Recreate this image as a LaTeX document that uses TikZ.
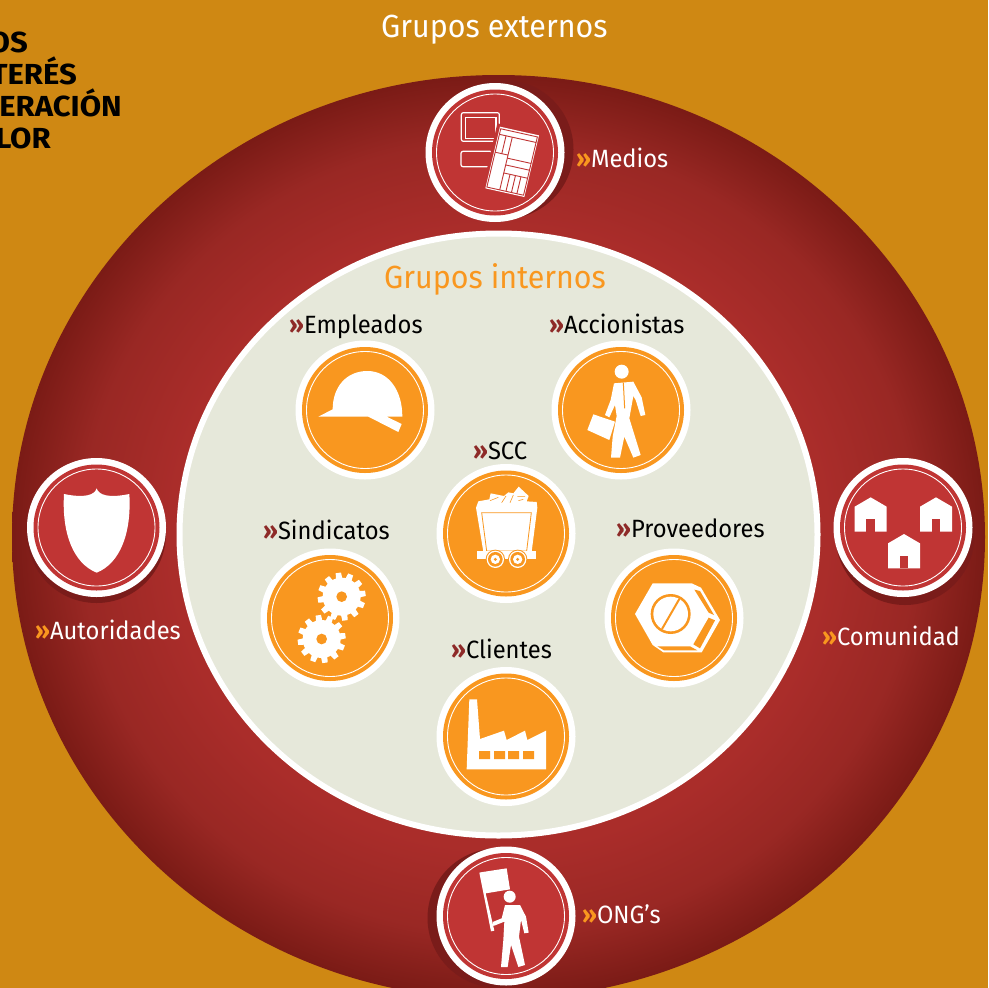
\documentclass[tikz,border=0pt]{standalone}
\usepackage{fontspec}
\setmainfont[FakeStretch=0.95]{Fira Sans}
\newfontfamily\titf[FakeStretch=1.07]{Fira Sans}
\definecolor{bgc}{HTML}{CF8813}
\definecolor{redb}{HTML}{C03534}
\definecolor{orb}{HTML}{F9971F}
\definecolor{shad}{HTML}{7A1C1A}
\definecolor{cream}{HTML}{E6E8DA}
\definecolor{darkr}{HTML}{8E2A28}
\pgfdeclareradialshading{bigred}{\pgfpoint{0bp}{0bp}}{rgb(0bp)=(.665,.175,.165);rgb(17bp)=(.665,.175,.165);rgb(21.5bp)=(.60,.155,.14);rgb(25bp)=(.48,.105,.085);rgb(50bp)=(.48,.105,.085)}
\newcommand{\gu}[1]{\textcolor{#1}{\bfseries »}}
\tikzset{
 disc/.style={circle,fill=white,minimum size=139pt,inner sep=0pt,draw=none},
 lab/.style={anchor=base west,inner sep=0pt,font=\fontsize{25}{25}\selectfont},
 head/.style={anchor=base west,inner sep=0pt,font=\fontsize{32}{32}\selectfont},
 tit/.style={anchor=base east,inner sep=0pt,text=black,font=\fontsize{29}{29}\titf\bfseries},
 ico/.style={fill=white,draw=none},
}
\newcommand{\redbadge}[5]{%
 \fill[shad] (#2+#4,#3+#5) circle (69.5);
 \node[disc] (#1) at (#2,#3) {};
 \fill[redb] (#1.center) circle (63);
 \draw[white,line width=.9pt] (#1.center) circle (58.5);}
\newcommand{\orbadge}[3]{%
 \node[disc] (#1) at (#2,#3) {};
 \fill[orb] (#1.center) circle (63);
 \draw[white,line width=.9pt] (#1.center) circle (58.5);}
\newcommand{\gearicon}[2]{%
 \fill[white] (#1,#2) circle (57);
 \foreach \a in {0,30,...,330}{
  \fill[white,shift={(#1,#2)},rotate=\a+8] (50,-10) -- (72,-8) -- (72,8) -- (50,10) -- cycle;}
 \fill[orb] (#1,#2) circle (16);}
\begin{document}
\begin{tikzpicture}[x=1pt,y=-1pt]
\useasboundingbox (0,0) rectangle (988,988);
\begin{scope}
\clip (0,0) rectangle (988,988);
\fill[bgc] (0,0) rectangle (988,988);
\shade[shading=bigred] (498.5,537) ellipse (486.5 and 462);
\filldraw[fill=cream,draw=white,line width=6pt] (498.5,534.5) ellipse (319 and 301);

\redbadge{medios}{495}{152.5}{9}{-3}
\redbadge{autoridades}{96.5}{527.5}{0}{6}
\redbadge{comunidad}{903}{527.5}{2}{8}
\redbadge{ongs}{506}{916}{-9}{2}
\orbadge{empleados}{365}{410}
\orbadge{accionistas}{621}{410}
\orbadge{scc}{506}{533.5}
\orbadge{sindicatos}{330}{618}
\orbadge{proveedores}{674}{618}
\orbadge{clientes}{506}{736.5}

% Medios icon
\begin{scope}[shift={(420,70)},scale=1/3]
 \draw[white,line width=1.2pt,rounded corners=2pt] (124,128) rectangle (238,214);
 \draw[white,line width=1.6pt] (136,142) rectangle (228,205);
 \draw[white,line width=1.2pt,rounded corners=2pt] (123,244) rectangle (216,290);
 \fill[redb] (232,160) -- (366,190) -- (326,390) -- (186,362) -- cycle;
 \begin{scope}[cm={117,-26,44,185,(240,170)}]
  \fill[white] (0,0) rectangle (1,1);
  \draw[redb,line width=.9pt] (.03,.03) rectangle (.97,.975);
  \draw[redb,line width=.9pt] (.03,.12) -- (.97,.12);
  \draw[redb,line width=.9pt] (.2,.12) -- (.2,.41) (.36,.12) -- (.36,.975) (.03,.41) -- (.36,.41);
  \draw[redb,line width=.9pt] (.36,.46) -- (.97,.46) (.36,.57) -- (.97,.57) (.36,.7) -- (.97,.7);
  \draw[redb,line width=.9pt] (.52,.7) -- (.52,.975) (.66,.7) -- (.66,.975) (.8,.7) -- (.8,.975);
 \end{scope}
\end{scope}

% helmet and businessman
\begin{scope}[shift={(290,340)},scale=1/3]
 \fill[ico] (85,230) -- (128,208) .. controls (128,140) and (170,93) .. (232,93) .. controls (295,93) and (337,150) .. (337,230) -- (290,230) -- (335,252) -- (325,276) -- (235,230) -- cycle;
 \fill[ico] (995,95) circle (21);
 \fill[ico] (972,130) -- (1030,125) -- (1055,172) -- (1066,225) -- (1052,228) -- (1037,180) -- (1030,168) -- (1018,235) -- (1052,345) -- (1030,353) -- (1003,290) -- (990,353) -- (963,353) -- (968,290) -- (980,228) -- (975,195) -- (958,232) -- (945,225) -- (962,180) -- cycle;
 \draw[orb,line width=1pt] (1000,128) -- (1004,205);
 \fill[ico] (910,223) -- (975,245) -- (958,300) -- (892,270) -- cycle;
\end{scope}

% cart
\begin{scope}[shift={(430,460)},scale=1/3]
 \fill[ico] (145,124) -- (178,118) -- (182,100) -- (222,108) -- (235,97) -- (250,100) -- (266,80) -- (296,108) -- (290,124) -- (320,126) -- (322,143) -- (305,275) -- (160,275) -- (138,143) -- cycle;
 \draw[orb,line width=.8pt] (155,158) -- (304,158) -- (290,273) -- (170,273) -- cycle;
 \draw[orb,line width=.6pt] (180,122) -- (205,112) (215,128) -- (228,108) (240,128) -- (250,105) (262,110) -- (285,110) (265,122) -- (280,118);
 \fill[ico] (140,272) rectangle (318,298);
 \foreach \cx in {196,263}{
  \fill[orb] (\cx,298) circle (29);
  \fill[white] (\cx,298) circle (26);
  \fill[orb] (\cx,298) circle (22);
  \fill[white] (\cx,298) circle (14);
  \fill[orb] (\cx,298) circle (5);}
\end{scope}

% gears
\begin{scope}[shift={(255,545)},scale=1/3]
 \gearicon{260}{155}
 \gearicon{200}{282}
\end{scope}

% nut
\begin{scope}[shift={(600,545)},scale=1/3]
 \fill[ico] (105,207) -- (158,115) -- (275,115) -- (303,128) -- (360,225) -- (305,322) -- (190,322) -- (158,300) -- cycle;
 \fill[orb] (283,134) -- (300,138) -- (342,210) -- (326,203) -- cycle;
 \fill[orb] (326,218) -- (345,226) -- (300,310) -- (280,298) -- cycle;
 \fill[orb] (172,304) -- (270,304) -- (292,316) -- (192,316) -- cycle;
 \fill[orb] (212,207) circle (60);
 \fill[white] (212,207) circle (52);
 \draw[orb,line width=2pt] (186,252) -- (238,162);
\end{scope}

% factory
\begin{scope}[shift={(430,665)},scale=1/3]
 \fill[ico] (118,103) -- (141,103) -- (150,222) -- (222,197) -- (230,225) -- (285,197) -- (292,225) -- (348,197) -- (348,313) -- (110,313) -- cycle;
 \fill[orb] (147,258) rectangle (180,282) (192,258) rectangle (225,282) (234,258) rectangle (267,282) (279,258) rectangle (312,282);
\end{scope}

% flag bearer
\begin{scope}[shift={(425,840)},scale=1/3]
 \fill[ico] (163,98) -- (173,96) -- (245,85) -- (255,148) -- (182,160) -- (208,272) -- (198,274) -- cycle;
 \fill[ico] (254,170) circle (18);
 \fill[ico] (240,195) -- (285,195) -- (303,230) -- (311,278) -- (298,280) -- (288,240) -- (282,290) -- (300,375) -- (280,381) -- (258,315) -- (248,381) -- (228,381) -- (235,300) -- (238,245) -- (205,258) -- (203,246) -- (230,235) -- cycle;
\end{scope}

% shield
\begin{scope}[shift={(20,450)},scale=1/3]
 \fill[ico] (230,115) .. controls (236,135) and (265,145) .. (328,132) .. controls (335,250) and (300,340) .. (230,368) .. controls (160,340) and (125,250) .. (132,132) .. controls (195,145) and (224,135) .. (230,115) -- cycle;
\end{scope}

% houses
\begin{scope}[shift={(825,450)},scale=1/3]
 \foreach \hx/\hy in {137/142,333/142,237/252}{
  \begin{scope}[shift={(\hx,\hy)}]
   \fill[ico] (0,0) -- (48,28) -- (48,103) -- (-48,103) -- (-48,28) -- cycle;
   \fill[redb] (-13,66) rectangle (13,103);
  \end{scope}}
\end{scope}

% labels
\node[head,text=white] (gext) at (381,37) {Grupos externos};
\node[head,text=orb] (gint) at (384,288) {Grupos internos};
\node[lab,text=white] (lmedios) at (576,167) {\gu{orb}Medios};
\node[lab,text=white] (laut) at (35,639) {\gu{orb}Autoridades};
\node[lab,text=white] (lcom) at (822,645) {\gu{orb}Comunidad};
\node[lab,text=white] (long) at (582,923) {\gu{orb}ONG’s};
\node[lab,text=black] (lemp) at (289,333) {\gu{darkr}Empleados};
\node[lab,text=black] (lacc) at (549,333) {\gu{darkr}Accionistas};
\node[lab,text=black] (lscc) at (473,459) {\gu{darkr}SCC};
\node[lab,text=black] (lsin) at (263,539) {\gu{darkr}Sindicatos};
\node[lab,text=black] (lpro) at (616,537) {\gu{darkr}Proveedores};
\node[lab,text=black] (lcli) at (451,658) {\gu{darkr}Clientes};
\node[tit] (t1) at (28,52) {OS};
\node[tit] (t2) at (77,84) {TERÉS};
\node[tit] (t3) at (122,116) {ERACIÓN};
\node[tit] (t4) at (51,148) {LOR};
\end{scope}
\end{tikzpicture}
\end{document}
